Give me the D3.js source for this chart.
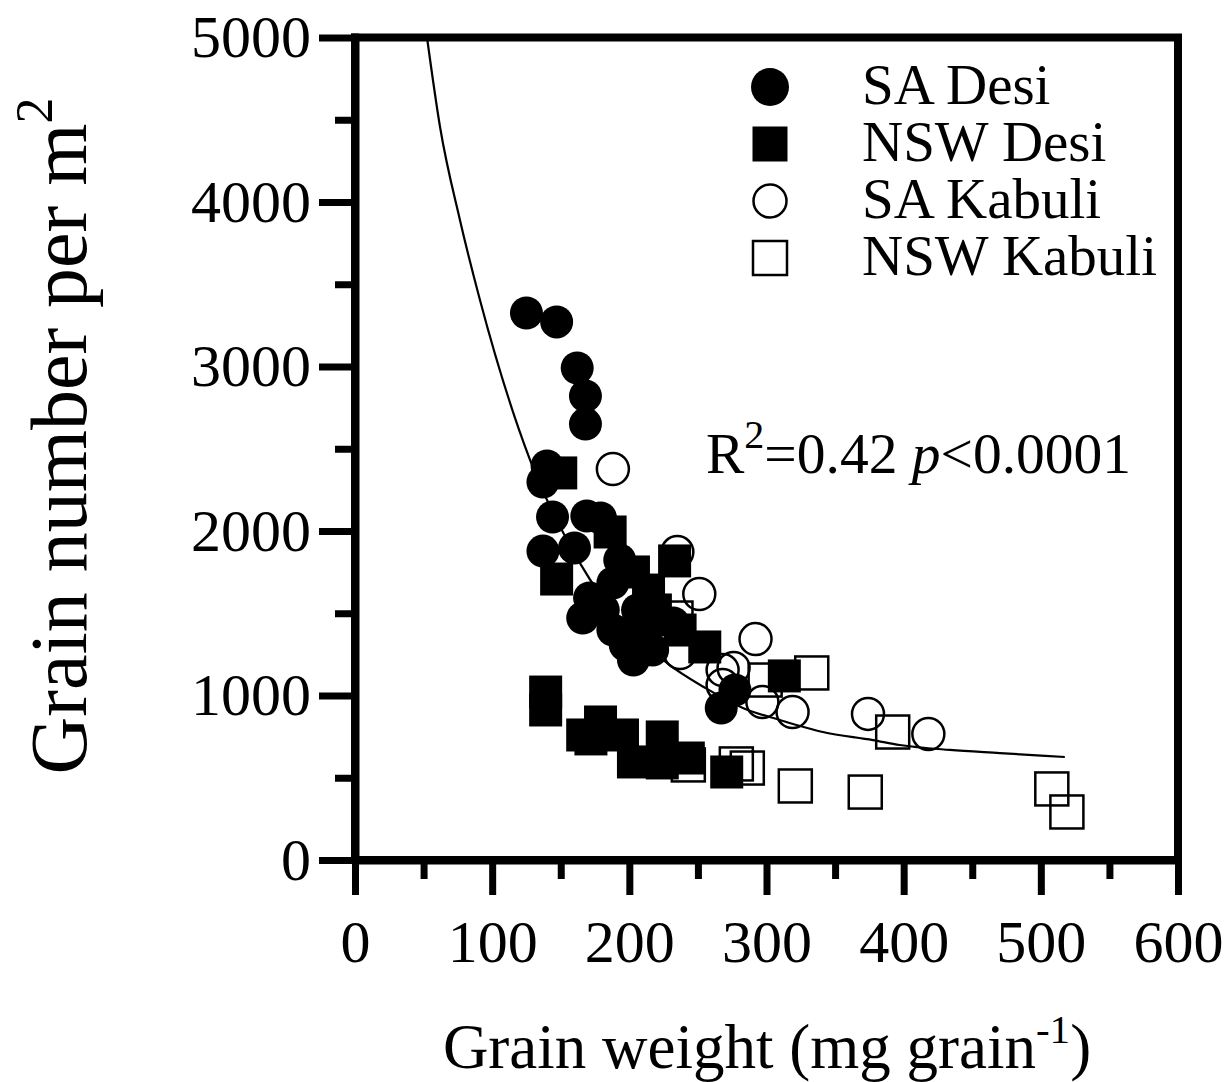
<!DOCTYPE html>
<html>
<head>
<meta charset="utf-8">
<script src="https://cdn.jsdelivr.net/npm/d3@7"></script>
<style>
  html, body { margin: 0; padding: 0; background: #fff; }
  svg text { font-family: "Liberation Serif", "Times New Roman", serif; fill: #000; }
</style>
</head>
<body>
<svg id="chart" width="1229" height="1082"></svg>
<script>
// ---- Data ----
const xMajorTicks = [0, 100, 200, 300, 400, 500, 600];
const xMinorTicks = [50, 150, 250, 350, 450, 550];
const yMajorTicks = [0, 1000, 2000, 3000, 4000, 5000];
const yMinorTicks = [500, 1500, 2500, 3500, 4500];

const saDesi = [
  [125, 3325], [147, 3271], [162, 2991], [168, 2821], [168, 2650],
  [140, 2395], [137, 2298], [144, 2085], [137, 1878], [169, 2091],
  [179, 2079], [160, 1897], [171, 1593], [166, 1471], [181, 1520],
  [188, 1398], [203, 1216], [217, 1277], [232, 1441], [277, 1033],
  [267, 924], [188, 1684], [206, 1520], [197, 1307], [193, 1824],
  [222, 1459]
];
const nswDesi = [
  [150, 2353], [186, 1994], [147, 1708], [203, 1751], [214, 1641],
  [233, 1818], [255, 1295], [237, 1398], [313, 1119], [139, 1021],
  [139, 912], [179, 839], [172, 736], [195, 760], [224, 748],
  [203, 596], [224, 590], [243, 620], [271, 535], [219, 1520],
  [208, 1398], [166, 760]
];
const saKabuli = [
  [188, 2377], [235, 1872], [251, 1617], [292, 1343], [268, 1155],
  [276, 1167], [268, 1064], [297, 960], [319, 900], [374, 888],
  [418, 766], [237, 1258]
];
const nswKabuli = [
  [234, 1471], [299, 1094], [333, 1137], [392, 778], [278, 584],
  [286, 559], [321, 450], [372, 413], [508, 432], [519, 292],
  [243, 578]
];
const fitCurve = [
  [52.5, 5000], [62.0, 4456], [76.5, 3891], [91.1, 3404], [127.6, 2432],
  [164.0, 1805], [227.4, 1198], [256.6, 1040], [282.8, 924], [309.8, 851],
  [341.1, 778], [377.6, 729], [397.2, 699], [433.7, 669], [470.1, 650],
  [517.5, 626]
];
const legendLabels = ["SA Desi", "NSW Desi", "SA Kabuli", "NSW Kabuli"];

// ---- Layout ----
const svg = d3.select("#chart");
const x = d3.scaleLinear().domain([0, 600]).range([355, 1178]);
const y = d3.scaleLinear().domain([0, 5000]).range([860, 37.5]);
const FONT = '"Liberation Serif", "Times New Roman", serif';

// Fit curve
const line = d3.line().x(d => x(d[0])).y(d => y(d[1])).curve(d3.curveMonotoneX);
svg.append("path").datum(fitCurve).attr("d", line)
  .attr("fill", "none").attr("stroke", "#000").attr("stroke-width", 2.2);

// Markers
const R = 16.5, S = 33;
svg.append("g").selectAll("circle").data(saKabuli).join("circle")
  .attr("cx", d => x(d[0])).attr("cy", d => y(d[1])).attr("r", 16)
  .attr("fill", "none").attr("stroke", "#000").attr("stroke-width", 2.5);
svg.append("g").selectAll("rect").data(nswKabuli).join("rect")
  .attr("x", d => x(d[0]) - S / 2).attr("y", d => y(d[1]) - S / 2)
  .attr("width", S).attr("height", S)
  .attr("fill", "none").attr("stroke", "#000").attr("stroke-width", 2.5);
svg.append("g").selectAll("rect").data(nswDesi).join("rect")
  .attr("x", d => x(d[0]) - S / 2).attr("y", d => y(d[1]) - S / 2)
  .attr("width", S).attr("height", S).attr("fill", "#000");
svg.append("g").selectAll("circle").data(saDesi).join("circle")
  .attr("cx", d => x(d[0])).attr("cy", d => y(d[1])).attr("r", R)
  .attr("fill", "#000");

// Axes
function styleAxis(g) {
  g.select(".domain").attr("stroke-width", 8).attr("stroke", "#000");
  g.selectAll(".tick line").attr("stroke-width", 7).attr("stroke", "#000");
  g.selectAll(".tick text").attr("font-family", FONT).attr("font-size", 60).attr("fill", "#000");
}
const yAxisMinor = svg.append("g").attr("transform", "translate(355,0)")
  .call(d3.axisLeft(y).tickValues(yMinorTicks).tickSize(20).tickSizeOuter(0).tickFormat(""));
styleAxis(yAxisMinor);
yAxisMinor.select(".domain").remove();
const yAxis = svg.append("g").attr("transform", "translate(355,0)")
  .call(d3.axisLeft(y).tickValues(yMajorTicks).tickSize(36).tickSizeOuter(0).tickPadding(8).tickFormat(d3.format("d")));
styleAxis(yAxis);

const xAxisMinor = svg.append("g").attr("transform", "translate(0,860)")
  .call(d3.axisBottom(x).tickValues(xMinorTicks).tickSize(19).tickSizeOuter(0).tickFormat(""));
styleAxis(xAxisMinor);
xAxisMinor.select(".domain").remove();
const xAxis = svg.append("g").attr("transform", "translate(0,860)")
  .call(d3.axisBottom(x).tickValues(xMajorTicks).tickSize(35).tickSizeOuter(0).tickPadding(24).tickFormat(d3.format("d")));
styleAxis(xAxis);

// Frame (top & right) and axis corners
svg.append("path")
  .attr("d", `M${x(0)},${y(5000)}H${x(600)}V${y(0)}`)
  .attr("fill", "none").attr("stroke", "#000").attr("stroke-width", 8)
  .attr("stroke-linecap", "square");
svg.append("path")
  .attr("d", `M${x(0)},${y(5000)}V${y(0)}H${x(600)}`)
  .attr("fill", "none").attr("stroke", "#000").attr("stroke-width", 8)
  .attr("stroke-linecap", "square");

// Axis titles
const yt = svg.append("text")
  .attr("transform", "translate(86,436) rotate(-90)")
  .attr("text-anchor", "middle").attr("font-size", 80);
yt.append("tspan").text("Grain number per m");
yt.append("tspan").attr("font-size", 52).attr("dy", -34).text("2");

const xt = svg.append("text")
  .attr("x", 767).attr("y", 1068)
  .attr("text-anchor", "middle").attr("font-size", 63);
xt.append("tspan").text("Grain weight (mg grain");
xt.append("tspan").attr("font-size", 41).attr("dy", -25).text("-1");
xt.append("tspan").attr("dy", 25).text(")");

// Annotation
const ann = svg.append("text").attr("x", 706).attr("y", 473).attr("font-size", 57.5);
ann.append("tspan").text("R");
ann.append("tspan").attr("font-size", 40).attr("dy", -25).text("2");
ann.append("tspan").attr("dy", 25).text("=0.42 ");
ann.append("tspan").attr("font-style", "italic").text("p");
ann.append("tspan").text("<0.0001");

// Legend
const legY = d3.scalePoint().domain(legendLabels).range([87, 258]);
const leg = svg.append("g");
leg.append("circle").attr("cx", 770).attr("cy", legY("SA Desi")).attr("r", 19).attr("fill", "#000");
leg.append("rect").attr("x", 770 - 17.5).attr("y", legY("NSW Desi") - 17.5)
  .attr("width", 35).attr("height", 35).attr("fill", "#000");
leg.append("circle").attr("cx", 770).attr("cy", legY("SA Kabuli")).attr("r", 16.5)
  .attr("fill", "none").attr("stroke", "#000").attr("stroke-width", 2.5);
leg.append("rect").attr("x", 770 - 17).attr("y", legY("NSW Kabuli") - 17)
  .attr("width", 34).attr("height", 34)
  .attr("fill", "none").attr("stroke", "#000").attr("stroke-width", 2.5);
leg.selectAll("text").data(legendLabels).join("text")
  .attr("x", 862).attr("y", d => legY(d) + 17)
  .attr("font-size", 57).text(d => d);
</script>
</body>
</html>
